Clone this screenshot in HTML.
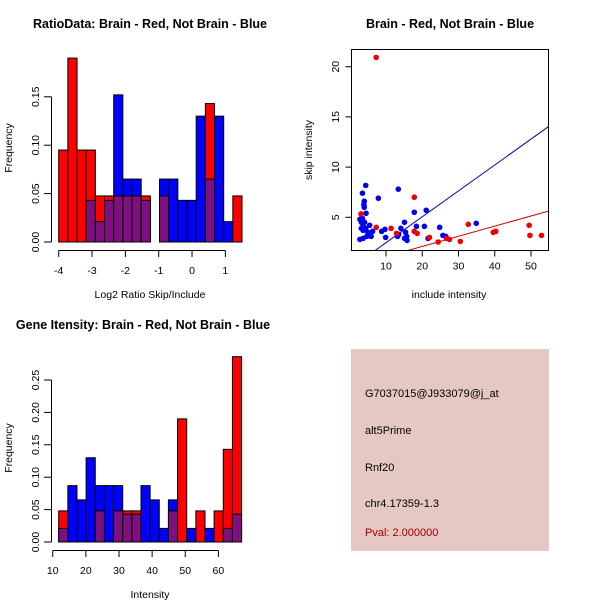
<!DOCTYPE html>
<html><head><meta charset="utf-8"><style>
html,body{margin:0;padding:0;background:#fff;}
svg{display:block;font-family:"Liberation Sans",Arial,sans-serif;}
</style></head><body>
<svg id="s" width="600" height="600" viewBox="0 0 600 600">
<rect width="600" height="600" fill="#fff"/>
<g id="p1"></g>
<g id="p2"></g>
<g id="p3"></g>
<g>
<rect x="351" y="349" width="198" height="202" fill="#e6c8c2"/>
<text x="365" y="397" font-size="11" fill="#000">G7037015@J933079@j_at</text>
<text x="365" y="434" font-size="11" fill="#000">alt5Prime</text>
<text x="365" y="471" font-size="11" fill="#000">Rnf20</text>
<text x="365" y="507" font-size="11" fill="#000">chr4.17359-1.3</text>
<text x="365" y="536" font-size="11" fill="#a00000">Pval: 2.000000</text>
</g>
</svg>
<script>
// ---- Ratio histogram data ----
const ratioBinStart = -4.0;
const ratioBinWidth = 0.275;
const ratioRed  = [0.095,0.19,0.095,0.095,0.0476,0.0476,0.0476,0.0476,0.0476,0.0476,0,0.0476,0,0,0,0,0.143,0,0,0.0476];
const ratioBlue = [0,0,0,0.043,0.021,0.043,0.152,0.065,0.065,0.043,0,0.065,0.065,0.043,0.043,0.13,0.065,0.13,0.021,0];
const ratioXTicks = [-4,-3,-2,-1,0,1];
const ratioYTicks = ["0.00","0.05","0.10","0.15"];
// ---- Gene intensity histogram data ----
const intBinStart = 11.8;
const intBinWidth = 2.76;
const intRed  = [0.048,0,0,0,0.048,0,0.048,0.048,0.048,0,0,0,0.048,0.19,0,0.048,0,0.048,0.143,0.286];
const intBlue = [0.021,0.087,0.065,0.13,0.087,0.087,0.087,0.043,0.043,0.087,0.065,0.021,0.065,0,0.021,0,0.021,0,0.021,0.043];
const intXTicks = [10,20,30,40,50,60];
const intYTicks = ["0.00","0.05","0.10","0.15","0.20","0.25"];
// ---- Scatter data ----
const redX  = [7.3,7.3,3.1,11.4,12.9,17.8,17.8,18.6,22.0,24.4,26.7,27.5,30.5,32.7,39.6,40.3,49.5,49.7,52.9];
const redY  = [20.93,4.0,5.33,3.9,3.4,7.0,3.6,3.4,3.0,2.54,2.9,2.8,2.6,4.3,3.5,3.6,4.2,3.2,3.2];
const blueX = [4.4,3.5,4.0,3.9,4.0,4.5,7.9,13.4,17.8,21.1,15.1,18.4,20.6,24.8,34.9,2.8,3.2,3.5,3.7,4.1,3.2,3.7,4.4,5.5,5.0,5.7,6.3,5.9,4.7,2.8,3.7,8.8,9.7,9.9,13.2,13.5,14.1,15.4,15.7,15.1,15.8,21.6,25.7,26.5];
const blueY = [8.18,7.4,6.6,6.25,6.0,5.4,6.9,7.8,5.5,5.7,4.5,4.1,4.1,4.0,4.4,4.8,4.5,4.9,4.2,4.5,3.9,3.7,3.9,4.2,3.5,3.4,3.6,3.1,3.1,2.8,2.9,3.6,3.8,3.0,3.1,3.3,3.9,3.5,3.1,2.9,2.7,2.9,3.2,3.1];
const scatterXTicks = [10,20,30,40,50];
const scatterYTicks = [5,10,15,20];
const blueLine = [0.258,-0.11];
const redLine  = [0.101,0.08];

const NS="http://www.w3.org/2000/svg";
function mk(parent,tag,attrs,text){const e=document.createElementNS(NS,tag);for(const k in attrs)e.setAttribute(k,attrs[k]);if(text!==undefined)e.textContent=text;parent.appendChild(e);return e;}

function hist(g,title,titleX,titleY,xlab,binStart,binW,red,blue,xTicks,yTicks,x0px,pxPerUnit,yBase,pxPerFreq,xlabY,ylabY){
  const sx=v=>x0px+(v-binStart)*pxPerUnit;
  const sy=v=>yBase-v*pxPerFreq;
  let t=mk(g,'text',{x:titleX,y:titleY,'font-size':12.5,'font-weight':'bold','text-anchor':'middle'},title);
  
  
  for(let i=0;i<red.length;i++){
    const xa=sx(binStart+i*binW), xb=sx(binStart+(i+1)*binW);
    const r=red[i], b=blue[i], mx=Math.max(r,b), mn=Math.min(r,b);
    if(mx>0){
      const top=mk(g,'rect',{x:xa,y:sy(mx),width:xb-xa,height:sy(0)-sy(mx),fill:r>=b?'#ff0000':'#0000ff',stroke:'#000','stroke-width':1});
      
      
    }
    if(mn>0){
      const ov=mk(g,'rect',{x:xa,y:sy(mn),width:xb-xa,height:sy(0)-sy(mn),fill:'#7f0f7f',stroke:'#000','stroke-width':1});
      
      
    }
  }
  const yv=yTicks.map(Number);
  let ya=mk(g,'line',{x1:51.5,x2:51.5,y1:sy(yv[0]),y2:sy(yv[yv.length-1]),stroke:'#000'});
  
  
  yTicks.forEach(l=>{const y=sy(Number(l));
    mk(g,'line',{x1:44,x2:51.5,y1:y,y2:y,stroke:'#000'});
    const tl=mk(g,'text',{x:0,y:0,'font-size':10.5,'text-anchor':'middle',transform:`translate(39,${y}) rotate(-90)`},l);
    
    
  });
  const tx=v=>x0px+(v-binStart)*pxPerUnit;
  let xa=mk(g,'line',{x1:tx(xTicks[0]),x2:tx(xTicks[xTicks.length-1]),y1:yBase+8.5,y2:yBase+8.5,stroke:'#000'});
  
  
  xTicks.forEach(v=>{const x=tx(v);
    mk(g,'line',{x1:x,x2:x,y1:yBase+8.5,y2:yBase+15,stroke:'#000'});
    const tl=mk(g,'text',{x:x,y:yBase+32,'font-size':10.5,'text-anchor':'middle'},String(v));
    
    
  });
  let xl=mk(g,'text',{x:150,y:xlabY,'font-size':10.5,'text-anchor':'middle'},xlab);
  
  
  let yl=mk(g,'text',{x:0,y:0,'font-size':10.5,'text-anchor':'middle',transform:`translate(12,${ylabY}) rotate(-90)`},'Frequency');
  
  
}

hist(document.getElementById('p1'),'RatioData: Brain - Red, Not Brain - Blue',150,28,'Log2 Ratio Skip/Include',
  ratioBinStart,ratioBinWidth,ratioRed,ratioBlue,ratioXTicks,ratioYTicks,58.7,33.33,242,968,298,148);
hist(document.getElementById('p3'),'Gene Itensity: Brain - Red, Not Brain - Blue',143,329,'Intensity',
  intBinStart,intBinWidth,intRed,intBlue,intXTicks,intYTicks,58.7,3.313,542,648,598,448);

(function(){
  const g=document.getElementById('p2');
  const L=351.5,R=548.5,T=49.5,B=250.5;
  const sx=v=>349.75+v*3.625;
  const sy=v=>267.5-v*10.04;
  let t=mk(g,'text',{x:450,y:28,'font-size':12.5,'font-weight':'bold','text-anchor':'middle'},'Brain - Red, Not Brain - Blue');
  
  
  const clip=mk(g,'clipPath',{id:'cp'});mk(clip,'rect',{x:L,y:T,width:R-L,height:B-T});
  const xmin=(L-349.75)/3.625,xmax=(R-349.75)/3.625;
  [[blueLine,'#0000aa','blue-fit-line'],[redLine,'#cc0000','red-fit-line']].forEach(([c,col,nm])=>{
    const ln=mk(g,'line',{x1:sx(xmin),y1:sy(c[0]*xmin+c[1]),x2:sx(xmax),y2:sy(c[0]*xmax+c[1]),stroke:col,'clip-path':'url(#cp)'});
    
    
  });
  blueX.forEach((x,i)=>{const c=mk(g,'circle',{cx:sx(x),cy:sy(blueY[i]),r:2.8,fill:'#0000ee'});
    
    });
  redX.forEach((x,i)=>{const c=mk(g,'circle',{cx:sx(x),cy:sy(redY[i]),r:2.8,fill:'#ee0000'});
    
    });
  const box=mk(g,'rect',{x:L,y:T,width:R-L,height:B-T,fill:'none',stroke:'#000'});
  
  
  scatterXTicks.forEach(v=>{const x=sx(v);
    mk(g,'line',{x1:x,x2:x,y1:B,y2:B+6,stroke:'#000'});
    const tl=mk(g,'text',{x:x,y:B+19,'font-size':10.5,'text-anchor':'middle'},String(v));
    
    });
  scatterYTicks.forEach(v=>{const y=sy(v);
    mk(g,'line',{x1:L-6,x2:L,y1:y,y2:y,stroke:'#000'});
    const tl=mk(g,'text',{x:0,y:0,'font-size':10.5,'text-anchor':'middle',transform:`translate(339,${y}) rotate(-90)`},String(v));
    
    });
  let xl=mk(g,'text',{x:449,y:298,'font-size':10.5,'text-anchor':'middle'},'include intensity');
  
  
  let yl=mk(g,'text',{x:0,y:0,'font-size':10.5,'text-anchor':'middle',transform:'translate(312,150) rotate(-90)'},'skip intensity');
  
  
})();
</script>
</body></html>
